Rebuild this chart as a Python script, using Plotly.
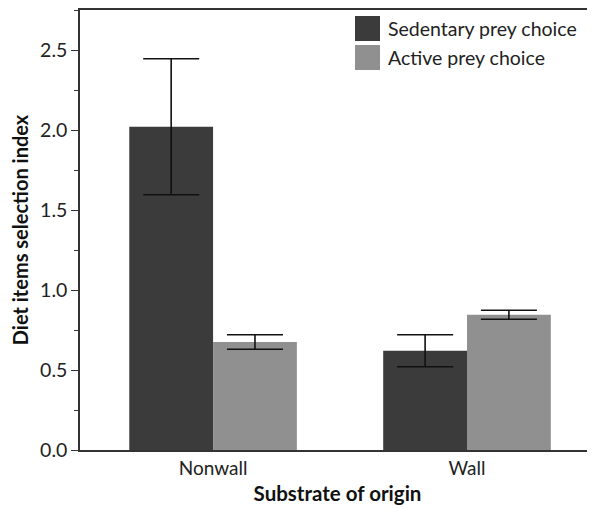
import plotly.graph_objects as go

categories = ["Nonwall", "Wall"]
sedentary = [2.02, 0.62]
sedentary_err = [0.425, 0.10]
active = [0.675, 0.845]
active_err = [0.045, 0.028]
series_names = ["Sedentary prey choice", "Active prey choice"]
colors = ["#3b3b3b", "#909090"]
y_ticks = [0.0, 0.5, 1.0, 1.5, 2.0, 2.5]

FONT = "Lato, 'Open Sans', sans-serif"

# page body has an 8px default margin; compensate so the plot lands where the reference has it
W, H = 587, 500
L, R, T, B = 72, 0, 2, 58
PW, PH = W - L - R, H - T - B

fig = go.Figure()
for name, vals, errs, col in [(series_names[0], sedentary, sedentary_err, colors[0]),
                              (series_names[1], active, active_err, colors[1])]:
    fig.add_trace(go.Bar(
        x=categories, y=vals, name=name, marker_color=col, marker_line_width=0,
        error_y=dict(type="data", array=errs, visible=True, color="#111111",
                     thickness=1.6, width=28),
        showlegend=False,
    ))

# legend drawn as shapes + text (large squares like the reference)
for i, (name, col) in enumerate(zip(series_names, colors)):
    top = 6 + i * 29
    bot = 31 + i * 29
    y0 = 1 - top / PH
    y1 = 1 - bot / PH
    fig.add_shape(type="rect", xref="paper", yref="paper",
                  x0=(355 - 80) / PW, x1=(380 - 80) / PW, y0=y1, y1=y0,
                  fillcolor=col, line_width=0)
    fig.add_annotation(xref="paper", yref="paper", x=(386 - 80) / PW,
                       y=(y0 + y1) / 2, text=name, showarrow=False,
                       xanchor="left", yanchor="middle",
                       font=dict(family=FONT, size=19.5, color="#222222"))

fig.update_layout(
    width=W, height=H,
    margin=dict(l=L, r=R, t=T, b=B),
    paper_bgcolor="white", plot_bgcolor="white",
    barmode="group", bargap=0.34, bargroupgap=0,
    font=dict(family=FONT, color="#222222"),
    xaxis=dict(
        range=[-0.524, 1.504], showline=True, linecolor="#333333", linewidth=1.5,
        mirror=True, ticks="", tickfont=dict(size=19, color="#222222"),
        title=dict(text="<b>Substrate of origin</b>", font=dict(size=20.5, color="#111111"), standoff=9),
        showgrid=False, zeroline=False,
    ),
    yaxis=dict(
        range=[0, 2.75], showline=True, linecolor="#333333", linewidth=1.5,
        tickvals=y_ticks, ticktext=[f"{v:.1f}" for v in y_ticks],
        ticks="outside", ticklen=7, tickwidth=1.3, tickcolor="#333333",
        tickfont=dict(size=19.5, color="#222222"),
        minor=dict(dtick=0.25, ticks="outside", ticklen=4, tickwidth=1.2, tickcolor="#333333"),
        title=dict(text="<b>Diet items selection index</b>", font=dict(size=20, color="#111111"), standoff=8),
        showgrid=False, zeroline=False,
    ),
)

fig.write_html("out.html")
